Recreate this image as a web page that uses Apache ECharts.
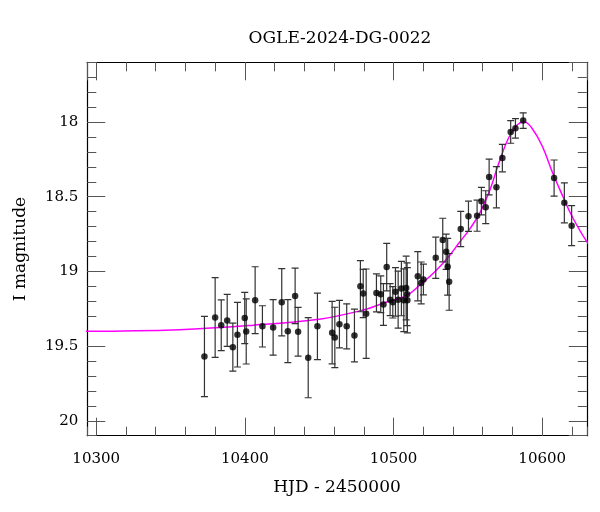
<!DOCTYPE html>
<html><head><meta charset="utf-8">
<script src="https://cdn.jsdelivr.net/npm/echarts@6/dist/echarts.min.js"></script>
<style>html,body{margin:0;padding:0;background:#fff}#c{width:600px;height:512px}</style>
</head><body><div id="c"></div>
<script>
const chartTitle = 'OGLE-2024-DG-0022';
const xName = 'HJD - 2450000';
const yName = 'I magnitude';

const hjd = [10372.8,10380.0,10384.1,10388.1,10391.9,10395.0,10399.9,10400.9,10406.9,10411.8,
  10419.0,10424.8,10428.9,10433.8,10435.8,10442.6,10448.8,10458.7,10460.5,10463.6,
  10468.5,10473.7,10477.7,10479.6,10481.6,10488.5,10491.4,10493.2,10495.4,10497.7,
  10499.5,10501.3,10503.1,10505.3,10506.9,10508.5,10509.1,10509.3,10516.3,10518.6,
  10520.1,10528.4,10533.1,10535.4,10536.4,10537.4,10545.2,10550.4,10556.2,10559.1,
  10562.0,10564.3,10569.2,10573.2,10578.8,10582.0,10587.2,10608.0,10614.9,10619.8];
const mag = [19.570,19.308,19.361,19.328,19.507,19.424,19.312,19.402,19.193,19.368,
  19.375,19.207,19.400,19.164,19.404,19.578,19.368,19.410,19.442,19.353,
  19.368,19.429,19.099,19.148,19.283,19.144,19.153,19.222,18.971,19.189,
  19.207,19.137,19.189,19.115,19.193,19.111,19.153,19.193,19.032,19.077,
  19.054,18.909,18.790,18.869,18.969,19.070,18.716,18.631,18.627,18.530,
  18.570,18.368,18.436,18.241,18.066,18.042,17.990,18.375,18.541,18.694];
const magErr = [0.269,0.267,0.170,0.174,0.161,0.216,0.172,0.218,0.224,0.138,
  0.186,0.225,0.211,0.186,0.163,0.268,0.223,0.209,0.202,0.159,
  0.151,0.177,0.171,0.161,0.299,0.127,0.123,0.140,0.159,0.107,
  0.105,0.162,0.191,0.182,0.210,0.213,0.210,0.218,0.165,0.140,
  0.103,0.138,0.146,0.118,0.190,0.190,0.118,0.101,0.104,0.092,
  0.110,0.120,0.138,0.092,0.076,0.065,0.052,0.121,0.134,0.134];

const modelHjd = [10285,10294,10356,10406,10450,10479,10494,10509,10519,10529,
  10538,10544,10551,10558,10565,10571,10578,10585,10588,10593,
  10600,10607,10614,10620,10630,10640];
const modelMag = [19.40,19.40,19.39,19.36,19.32,19.26,19.21,19.16,19.08,18.99,
  18.89,18.81,18.72,18.61,18.45,18.27,18.095,18.005,18.00,18.04,
  18.16,18.34,18.50,18.63,18.80,18.92];

const xMin = 10294, xMax = 10630, yMin = 17.6, yMax = 20.1;
const FONT = 'DejaVu Serif';
const tickColor = '#555';

function majorX(pos, labels) {
  return {type:'value', position:pos, min:xMin, max:xMax, splitNumber:3,
    axisLine:{show:true, onZero:false, lineStyle:{color:'#000', width:1.2}},
    axisTick:{show:true, inside:true, length:18, lineStyle:{color:tickColor, width:1}},
    minorTick:{show:false}, splitLine:{show:false},
    axisLabel:{show:labels, showMinLabel:false, showMaxLabel:false, margin:16,
      fontFamily:FONT, fontSize:15, color:'#000',
      formatter:v => (Math.abs(v/100 - Math.round(v/100))<1e-6) ? String(v) : ''},
    name: labels ? xName : '', nameLocation:'middle', nameGap:43,
    nameTextStyle:{fontFamily:FONT, fontSize:17, color:'#000'}};
}
function minorX(pos) {
  return {type:'value', position:pos, min:xMin, max:xMax, splitNumber:17,
    axisLine:{show:false, onZero:false}, axisTick:{show:true, inside:true, length:9, lineStyle:{color:tickColor, width:1}},
    axisLabel:{show:false}, splitLine:{show:false}};
}
function majorY(pos, labels) {
  return {type:'value', position:pos, inverse:true, min:yMin, max:yMax, splitNumber:5,
    axisLine:{show:true, onZero:false, lineStyle:{color:'#000', width:1.2}},
    axisTick:{show:true, inside:true, length:18, lineStyle:{color:tickColor, width:1}},
    minorTick:{show:false}, splitLine:{show:false},
    axisLabel:{show:labels, showMinLabel:false, showMaxLabel:false, margin:9,
      fontFamily:FONT, fontSize:15, color:'#000',
      formatter:v => (Math.abs(v*2 - Math.round(v*2))<1e-6) ? String(v) : ''},
    name: labels ? yName : '', nameLocation:'middle', nameGap:58,
    nameTextStyle:{fontFamily:FONT, fontSize:17, color:'#000'}};
}
function minorY(pos) {
  return {type:'value', position:pos, inverse:true, min:yMin, max:yMax, splitNumber:25,
    axisLine:{show:false, onZero:false}, axisTick:{show:true, inside:true, length:9, lineStyle:{color:tickColor, width:1}},
    axisLabel:{show:false}, splitLine:{show:false}};
}

const chart = echarts.init(document.getElementById('c'), null, {renderer:'canvas'});
chart.setOption({
  animation:false,
  backgroundColor:'#fff',
  title:{text:chartTitle, left:335, top:25, textAlign:'center',
    textStyle:{fontFamily:FONT, fontSize:17, fontWeight:'normal', color:'#000'}},
  grid:{left:87.3, top:62.3, width:499.5, height:373.4, containLabel:false},
  xAxis:[majorX('bottom', true), minorX('bottom'), majorX('top', false), minorX('top')],
  yAxis:[majorY('left', true), minorY('left'), majorY('right', false), minorY('right')],
  series:[
    {type:'line', xAxisIndex:0, yAxisIndex:0, data:modelHjd.map((x,i)=>[x, modelMag[i]]),
      showSymbol:false, smooth:0.4, clip:true, lineStyle:{color:'#ff00ff', width:1.5}, z:2},
    {type:'custom', xAxisIndex:0, yAxisIndex:0, z:3, clip:true,
      data:hjd.map((x,i)=>[x, mag[i]-magErr[i], mag[i]+magErr[i]]),
      encode:{x:0, y:[1,2]},
      renderItem:function(params, api){
        const x = api.value(0);
        const p1 = api.coord([x, api.value(1)]);
        const p2 = api.coord([x, api.value(2)]);
        const w = 3.5, st = {stroke:'#333', lineWidth:1.2};
        return {type:'group', children:[
          {type:'line', shape:{x1:p1[0], y1:p1[1], x2:p2[0], y2:p2[1]}, style:st},
          {type:'line', shape:{x1:p1[0]-w, y1:p1[1], x2:p1[0]+w, y2:p1[1]}, style:st},
          {type:'line', shape:{x1:p2[0]-w, y1:p2[1], x2:p2[0]+w, y2:p2[1]}, style:st}
        ]};
      }},
    {type:'scatter', xAxisIndex:0, yAxisIndex:0, z:4, data:hjd.map((x,i)=>[x, mag[i]]),
      symbol:'circle', symbolSize:6.5, itemStyle:{color:'#000'}}
  ]
});
</script>
</body></html>
